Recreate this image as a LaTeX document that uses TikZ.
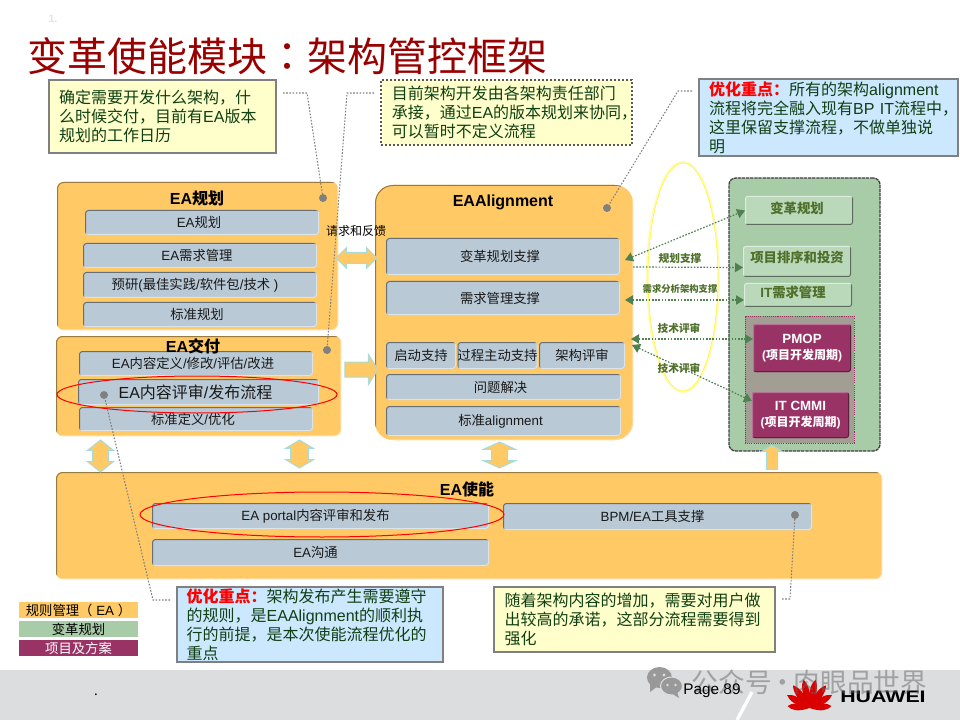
\documentclass[tikz,border=0pt]{standalone}
\usepackage{fontspec}
\setmainfont{Noto Sans CJK SC}
\newfontfamily\latinfont{Liberation Sans}
\newfontfamily\tcfont{Noto Sans CJK TC}
\newcommand{\en}[1]{{\latinfont #1}}
\newcommand{\cma}{\char"FF0C\relax}
\newcommand{\cln}{\char"FF1A\relax}
\usetikzlibrary{arrows.meta,shapes.geometric,shapes.arrows}

\definecolor{slabfill}{HTML}{FFC966}
\definecolor{tilefill}{HTML}{B9C9D6}
\definecolor{greenfill}{HTML}{A8CCA8}
\definecolor{greentile}{HTML}{BAD8BA}
\definecolor{greentext}{HTML}{4F6F2A}
\definecolor{arrowgreen}{HTML}{4E8050}
\definecolor{plumfill}{HTML}{993366}
\definecolor{notetext}{HTML}{0F3F12}
\definecolor{leadergray}{HTML}{808080}
\definecolor{arrowedge}{HTML}{A6DCDC}
\definecolor{footergray}{HTML}{DCDDDF}
\definecolor{yellownotefill}{HTML}{FFFFCC}
\definecolor{bluenotefill}{HTML}{CCE8FF}
\definecolor{zonegray}{HTML}{A39E93}

% box given by its two corners, in pixels of the reference
\newcommand{\boxnode}[7]{%
  \pgfmathsetmacro{\boxcx}{(#3+#5)/2}%
  \pgfmathsetmacro{\boxcy}{(#4+#6)/2}%
  \node[#1,minimum width=(#5-#3)*0.75pt,minimum height=(#6-#4)*0.75pt] (#2) at (\boxcx,\boxcy) {#7};}

\tikzset{
  bevel/.style 2 args={path picture={
    \draw[#1,line width=1.5pt] (path picture bounding box.south west) -- (path picture bounding box.north west) -- (path picture bounding box.north east);
    \draw[#2,line width=1.5pt] (path picture bounding box.south west) -- (path picture bounding box.south east) -- (path picture bounding box.north east);}},
  plainbox/.style={inner sep=0pt,outer sep=0pt},
  textleft/.style={execute at begin node={\kern-#1}},
  slab/.style={plainbox,rounded corners=5pt,fill=slabfill,bevel={slabfill!60!black}{slabfill!70!white}},
  tile/.style={plainbox,rounded corners=2.5pt,fill=tilefill,text=black!90,bevel={tilefill!55!black}{tilefill!50!white},font=\fontsize{10}{12}\selectfont},
  greenbox/.style={plainbox,rounded corners=2pt,fill=greentile,text=greentext,bevel={greentile!50!white}{greentile!50!black},font=\fontsize{10}{12}\selectfont\bfseries},
  plumbox/.style={plainbox,rounded corners=2pt,fill=plumfill,text=white,align=center,bevel={plumfill!70!white}{plumfill!60!black},font=\fontsize{9}{12}\selectfont\bfseries},
  slabtitle/.style={font=\fontsize{12}{14}\selectfont\bfseries},
  flowlabel/.style={text=greentext,font=\fontsize{8}{10}\selectfont\bfseries},
  notebox/.style={plainbox,align=left,text=notetext,font=\fontsize{12}{14.25}\selectfont},
  yellownote/.style={notebox,fill=yellownotefill,draw=leadergray,line width=1.5pt},
  bluenote/.style={notebox,fill=bluenotefill,draw=leadergray,line width=1.5pt},
  redring/.style={ellipse,plainbox,draw=red,line width=0.75pt},
  dotmark/.style={circle,plainbox,fill=leadergray,minimum size=6pt},
  leader/.style={draw=leadergray,line width=0.8pt,dash pattern=on 1.2pt off 1.2pt},
  flowline/.style={draw=arrowgreen,line width=0.9pt,dash pattern=on 1.2pt off 1.2pt,
    {Triangle[width=7pt,length=6pt]}-{Triangle[width=7pt,length=6pt]}},
  flowright/.style={draw=arrowgreen,line width=0.9pt,dash pattern=on 1.2pt off 1.2pt,
    -{Triangle[width=7pt,length=6pt]}},
  blockarrow/.style={plainbox,fill=slabfill,draw=arrowedge,line width=0.75pt,text width=0pt,text depth=0pt},
  legendbar/.style={plainbox,font=\fontsize{10}{12}\selectfont}
}

\begin{document}
\begin{tikzpicture}[x=0.75pt,y=-0.75pt]
  \useasboundingbox (0,0) rectangle (960,720);

  % footer band
  \boxnode{plainbox,fill=footergray}{footer}{0}{670}{960}{720}{}
  \draw[white,line width=2.5pt] (752,692) -- (737,720);

  % heading
  \node[text=black!8!blue!12,font=\fontsize{8}{10}\selectfont\bfseries\latinfont] (pageno) at (53,19) {1.};
  \node[anchor=west,inner sep=0pt,text=red!60!black,font=\fontsize{30}{34}\selectfont] (heading) at (27,56) {变革使能模块{\tcfont\cln}架构管控框架};

  % EA planning
  \boxnode{slab}{planslab}{57}{182}{338}{330}{}
  \boxnode{tile,textleft=4.5pt}{planA}{85}{210}{319}{235}{\en{EA}规划}
  \boxnode{tile,textleft=4.5pt}{planB}{83}{243}{317}{268}{\en{EA}需求管理}
  \boxnode{tile,textleft=7.5pt}{planC}{83}{272}{317}{298}{预研\en{(}最佳实践\en{/}软件包\en{/}技术\en{ )}}
  \boxnode{tile,textleft=4.5pt}{planD}{83}{302}{317}{327}{标准规划}
  \node[slabtitle] (plantitle) at (197,198) {\en{EA}规划};

  % EA delivery
  \boxnode{slab}{dlvslab}{56}{336}{341}{436}{}
  \boxnode{tile,textleft=4.5pt}{dlvA}{79}{351}{313}{376}{\en{EA}内容定义\en{/}修改\en{/}评估\en{/}改进}
  \boxnode{tile,textleft=4.5pt}{dlvC}{79}{407}{313}{431}{标准定义\en{/}优化}
  \boxnode{tile,textleft=4.5pt,font=\fontsize{12}{14}\selectfont}{dlvB}{78}{379}{319}{405}{\en{EA}内容评审\en{/}发布流程}
  \node[slabtitle] (dlvtitle) at (193,346) {\en{EA}交付};
  \boxnode{redring}{dlvring}{57}{376}{337}{413}{}

  % EA alignment
  \boxnode{slab,rounded corners=13.5pt}{algslab}{375}{185}{633}{440}{}
  \boxnode{tile,textleft=4.5pt}{algA}{386}{238}{620}{275}{变革规划支撑}
  \boxnode{tile,textleft=4.5pt}{algB}{386}{281}{620}{315}{需求管理支撑}
  \boxnode{tile}{algC}{386}{342}{456}{369}{启动支持}
  \boxnode{tile}{algD}{458}{342}{537}{369}{过程主动支持}
  \boxnode{tile}{algE}{539}{342}{625}{369}{架构评审}
  \boxnode{tile,textleft=4.5pt}{algF}{386}{374}{621}{400}{问题解决}
  \boxnode{tile,textleft=4.5pt}{algG}{386}{406}{621}{436}{标准\en{alignment}}
  \node[slabtitle,font=\fontsize{12}{14}\selectfont\bfseries\latinfont] (algtitle) at (503,202) {EAAlignment};

  % EA enablement
  \boxnode{slab}{enbslab}{56}{472}{882}{579}{}
  \boxnode{tile,textleft=7.5pt}{enbA}{152}{503}{489}{529}{\en{EA portal}内容评审和发布}
  \boxnode{tile,textleft=7.5pt}{enbB}{503}{503}{812}{530}{\en{BPM/EA}工具支撑}
  \boxnode{tile,textleft=7.5pt}{enbC}{152}{539}{489}{566}{\en{EA}沟通}
  \node[slabtitle] (enbtitle) at (467,489) {\en{EA}使能};
  \boxnode{redring}{enbring}{140}{492}{504}{537}{}

  % block arrows between the groups
  \node[double arrow,blockarrow,text height=7.5pt,minimum height=30.75pt,minimum width=15pt,double arrow head extend=3.75pt,double arrow tip angle=90] (reqarrow) at (356.5,258) {};
  \node[single arrow,blockarrow,text height=10.5pt,minimum height=24.75pt,minimum width=21.75pt,single arrow head extend=5.6pt,single arrow tip angle=116] (dlvarrow) at (359,369.5) {};
  \node[double arrow,blockarrow,rotate=90,text height=11.25pt,minimum height=24pt,minimum width=18.75pt,double arrow head extend=3.75pt,double arrow tip angle=103] (upA) at (100.5,456) {};
  \node[double arrow,blockarrow,rotate=90,text height=12.75pt,minimum height=21pt,minimum width=20.25pt,double arrow head extend=3.75pt,double arrow tip angle=118] (upB) at (299.5,454) {};
  \node[double arrow,blockarrow,rotate=90,text height=11.25pt,minimum height=19.5pt,minimum width=23.25pt,double arrow head extend=6pt,double arrow tip angle=131] (upC) at (499.5,455) {};

  % business side
  \boxnode{ellipse,plainbox,draw=yellow!30,line width=1.5pt}{bandglow}{647}{162}{719}{392}{}
  \boxnode{ellipse,plainbox,draw=yellow!75,line width=0.5pt}{bandring}{648}{163}{718}{391}{}
  \boxnode{plainbox,rounded corners=5pt,fill=greenfill,draw=black!75,line width=1pt,dash pattern=on 2.5pt off 0.6pt}{bizslab}{729}{178}{880}{451}{}
  \boxnode{greenbox}{bizA}{745}{196}{853}{225}{}
  \node[text=greentext,font=\fontsize{10}{12}\selectfont\bfseries] (bizAtext) at (797,208) {变革规划};
  \boxnode{greenbox}{bizB}{743}{246}{851}{277}{}
  \node[text=greentext,font=\fontsize{10}{12}\selectfont\bfseries] (bizBtext) at (797,257) {项目排序和投资};
  \boxnode{greenbox}{bizC}{744}{283}{852}{307}{}
  \node[text=greentext,font=\fontsize{10}{12}\selectfont\bfseries] (bizCtext) at (793,292) {\en{IT}需求管理};
  \boxnode{plainbox,fill=zonegray,draw=plumfill,line width=0.6pt,dash pattern=on 0.8pt off 0.8pt}{projzone}{745}{316}{854}{443}{}
  \boxnode{plumbox}{pmop}{753}{324}{851}{372}{{\fontsize{10}{13}\selectfont\en{PMOP}}\\\en{(}项目开发周期\en{)}}
  \boxnode{plumbox}{cmmi}{752}{392}{849}{438}{{\fontsize{10}{13}\selectfont\en{IT CMMI}}\\\en{(}项目开发周期\en{)}}
  \node[single arrow,blockarrow,rotate=90,text height=7.5pt,minimum height=18pt,minimum width=15pt,single arrow head extend=3.75pt,single arrow tip angle=118] (upD) at (772,459) {};

  % flows between alignment and business side
  \coordinate (portA) at (625,260);
  \coordinate (portB) at (633,267);
  \coordinate (portC) at (625,300);
  \coordinate (portD) at (631,339);
  \coordinate (portE) at (632,345);
  \draw[flowline] (portA) -- (bizA.west);
  \draw[flowright] (portB) -- ([yshift=-4.5pt]bizB.west);
  \draw[flowline] (portC) -- ([yshift=-3.75pt]bizC.west);
  \draw[flowline] (portD) -- ([yshift=6.75pt]pmop.west);
  \draw[flowline] (portE) -- ([yshift=10.5pt]cmmi.west);
  \node[flowlabel] (flowA) at (680,258) {规划支撑};
  \node[flowlabel,font=\fontsize{7}{9}\selectfont\bfseries] (flowB) at (680,289) {需求分析架构支撑};
  \node[flowlabel] (flowC) at (679,328) {技术评审};
  \node[flowlabel] (flowD) at (679,368) {技术评审};
  \node[font=\fontsize{9}{11}\selectfont] (reqlabel) at (356,231) {请求和反馈};

  % notes
  \boxnode{yellownote,text width=155pt}{noteA}{49}{80}{276}{153}{确定需要开发什么架构\cma 什\\么时候交付\cma 目前有\en{EA}版本\\规划的工作日历}
  \boxnode{notebox,fill=yellownotefill,draw=black!65,line width=1pt,dash pattern=on 1.2pt off 1.8pt,text width=172pt}{noteB}{381}{80}{632}{145}{目前架构开发由各架构责任部门\\承接\cma 通过\en{EA}的版本规划来协同\cma\\可以暂时不定义流程}
  \boxnode{bluenote,text width=179pt}{noteC}{699}{79}{958}{156}{\textbf{\textcolor{red}{优化重点\cln}}所有的架构\en{alignment}\\流程将完全融入现有\en{BP~IT}流程中\cma\\这里保留支撑流程\cma 不做单独说\\明}
  \boxnode{bluenote,text width=185pt}{noteD}{177}{587}{443}{662}{\textbf{\textcolor{red}{优化重点\cln}}架构发布产生需要遵守\\的规则\cma 是\en{EAAlignment}的顺利执\\行的前提\cma 是本次使能流程优化的\\重点}
  \boxnode{yellownote,text width=195pt}{noteE}{494}{587}{775}{652}{随着架构内容的增加\cma 需要对用户做\\出较高的承诺\cma 这部分流程需要得到\\强化}

  % leader lines with their dots
  \node[dotmark] (dotA) at (323,198) {};
  \node[dotmark] (dotB) at (327,350) {};
  \node[dotmark] (dotC) at (607,208) {};
  \node[dotmark] (dotD) at (104,395) {};
  \node[dotmark] (dotE) at (795,515) {};
  \coordinate (leadA) at (283,93);
  \coordinate (leadB) at (374,93);
  \coordinate (leadC) at (692,91);
  \coordinate (leadD) at (170,600);
  \coordinate (leadE) at (782,599);
  \draw[leader] (leadA) -- (307,93) -- (dotA);
  \draw[leader] (leadB) -- (347,93) -- (dotB);
  \draw[leader] (leadC) -- (678,91) -- (dotC);
  \draw[leader] (leadD) -- (153,600) -- (dotD);
  \draw[leader] (leadE) -- (790,599) -- (dotE);

  % legend
  \boxnode{legendbar,fill=slabfill}{legA}{19}{602}{138}{618}{规则管理\char"FF08\relax\en{ EA }\char"FF09\relax}
  \boxnode{legendbar,fill=greenfill}{legB}{19}{621}{138}{637}{变革规划}
  \boxnode{legendbar,fill=plumfill,text=white}{legC}{19}{640}{138}{656}{项目及方案}

  % footer items
  \node[inner sep=0pt,font=\fontsize{10}{12}\selectfont] (footdot) at (96,695) {.};
  \begin{scope}[black!40]
    \fill (659.5,677.5) ellipse (12.5 and 10.5);
    \fill (650,683) -- (650,692) -- (658,686) -- cycle;
    \draw[fill=black!40,draw=footergray,line width=0.75pt] (671.5,686) ellipse (11 and 9);
    \fill (677,692) -- (679,698) -- (671,693) -- cycle;
  \end{scope}
  \fill[footergray] (654.5,675) circle (1.6) (664,675) circle (1.6) (667.5,685) circle (1.3) (675.5,685) circle (1.3);
  % petals of the logo
  \foreach \ang/\len in {-85/22,-60/26,-36/28,-12/29,12/29,36/28,60/26,85/22} {
    \fill[red!85!black,rotate around={\ang:(809.5,708)}] (809.5,708) .. controls (804.5,{708-0.5*\len}) and (805.5,{708-0.8*\len}) .. (809.5,{708-\len}) .. controls (813.5,{708-0.8*\len}) and (814.5,{708-0.5*\len}) .. (809.5,708) -- cycle;
  }
  \node[inner sep=0pt,xscale=1.28,font=\fontsize{12.5}{14}\selectfont\bfseries\latinfont] (logotext) at (883,697) {HUAWEI};
  \node[text=black!60,text opacity=0.5,font=\fontsize{20}{22}\selectfont,inner sep=0pt] (watermark) at (809.5,682) {公众号\hspace{-2pt}·\hspace{-1.5pt}肉眼品世界};
  \node[inner sep=0pt,font=\fontsize{11.5}{13}\selectfont\latinfont] (pagenum) at (712,691) {Page 89};
\end{tikzpicture}
\end{document}
